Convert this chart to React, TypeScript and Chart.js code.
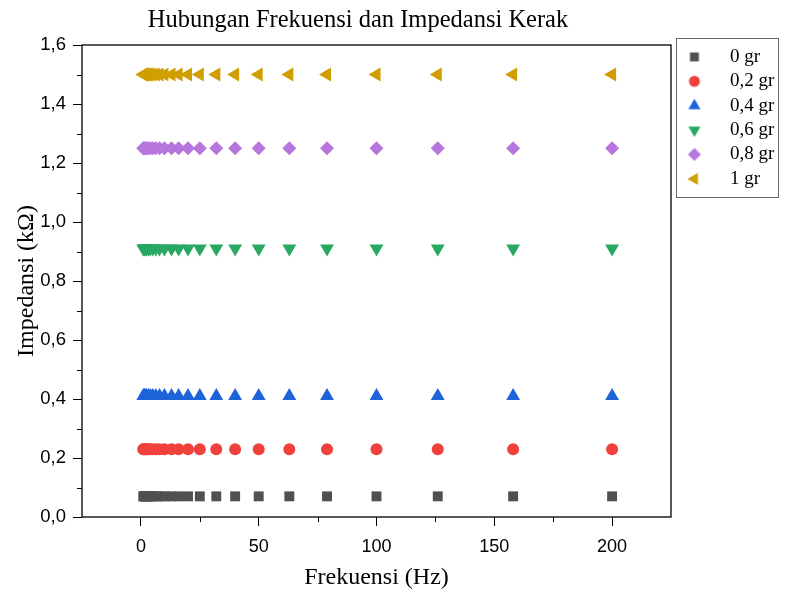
import React, { useEffect, useRef } from 'react';
import { Chart, registerables } from 'chart.js';
import { drawPoint } from 'chart.js/helpers';

Chart.register(...registerables);

const TITLE = 'Hubungan Frekuensi dan Impedansi Kerak';
const X_TITLE = 'Frekuensi (Hz)';
const Y_TITLE = 'Impedansi (kΩ)';

const seriesLabels = ['0 gr', '0,2 gr', '0,4 gr', '0,6 gr', '0,8 gr', '1 gr'];

const frequencies = [1, 1.3, 1.6, 2, 2.5, 3.2, 4, 5, 6.3, 7.9, 10, 13, 16, 20, 25, 32, 40, 50, 63, 79, 100, 126, 158, 200];

const imp0gr = [0.07, 0.07, 0.07, 0.07, 0.07, 0.07, 0.07, 0.07, 0.07, 0.07, 0.07, 0.07, 0.07, 0.07, 0.07, 0.07, 0.07, 0.07, 0.07, 0.07, 0.07, 0.07, 0.07, 0.07];
const imp02gr = [0.23, 0.23, 0.23, 0.23, 0.23, 0.23, 0.23, 0.23, 0.23, 0.23, 0.23, 0.23, 0.23, 0.23, 0.23, 0.23, 0.23, 0.23, 0.23, 0.23, 0.23, 0.23, 0.23, 0.23];
const imp04gr = [0.41, 0.41, 0.41, 0.41, 0.41, 0.41, 0.41, 0.41, 0.41, 0.41, 0.41, 0.41, 0.41, 0.41, 0.41, 0.41, 0.41, 0.41, 0.41, 0.41, 0.41, 0.41, 0.41, 0.41];
const imp06gr = [0.91, 0.91, 0.91, 0.91, 0.91, 0.91, 0.91, 0.91, 0.91, 0.91, 0.91, 0.91, 0.91, 0.91, 0.91, 0.91, 0.91, 0.91, 0.91, 0.91, 0.91, 0.91, 0.91, 0.91];
const imp08gr = [1.25, 1.25, 1.25, 1.25, 1.25, 1.25, 1.25, 1.25, 1.25, 1.25, 1.25, 1.25, 1.25, 1.25, 1.25, 1.25, 1.25, 1.25, 1.25, 1.25, 1.25, 1.25, 1.25, 1.25];
const imp1gr = [1.5, 1.5, 1.5, 1.5, 1.5, 1.5, 1.5, 1.5, 1.5, 1.5, 1.5, 1.5, 1.5, 1.5, 1.5, 1.5, 1.5, 1.5, 1.5, 1.5, 1.5, 1.5, 1.5, 1.5];

const seriesValues = [imp0gr, imp02gr, imp04gr, imp06gr, imp08gr, imp1gr];

const xTicks = [0, 50, 100, 150, 200];
const xMinorTicks = [25, 75, 125, 175];
const yTicks = [0, 0.2, 0.4, 0.6, 0.8, 1.0, 1.2, 1.4, 1.6];
const yMinorTicks = [0.1, 0.3, 0.5, 0.7, 0.9, 1.1, 1.3, 1.5];

const COLORS = ['#505050', '#f0413d', '#1d63d9', '#28a863', '#b676dd', '#d09e00'];
const STYLES = ['rect', 'circle', 'triangle', 'triangle', 'rectRot', 'triangle'];
const ROTATIONS = [0, 0, 0, 180, 0, -90];
const RADII = [7, 6, 8, 8, 7, 8];
const LEGEND_RADII = [6.3, 5.5, 7, 7, 6.5, 7];

const SERIF = '"Liberation Serif", "Times New Roman", serif';
const SANS = '"Liberation Sans", Arial, sans-serif';

function makeLegendIcon(i: number): HTMLCanvasElement {
  const c = document.createElement('canvas');
  c.width = 44;
  c.height = 20;
  const ctx = c.getContext('2d')!;
  ctx.fillStyle = COLORS[i];
  ctx.strokeStyle = COLORS[i];
  drawPoint(ctx, { pointStyle: STYLES[i] as any, rotation: ROTATIONS[i], radius: LEGEND_RADII[i], borderWidth: 0 } as any, 18, 10);
  return c;
}

export default function App() {
  const ref = useRef<HTMLCanvasElement | null>(null);

  useEffect(() => {
    document.body.style.margin = '0';
    const canvas = ref.current;
    if (!canvas) return;
    const icons = seriesLabels.map((_, i) => makeLegendIcon(i));

    const datasets = seriesLabels.map((label, i) => ({
      label,
      data: frequencies.map((f, j) => ({ x: f, y: seriesValues[i][j] })),
      showLine: false,
      pointStyle: STYLES[i],
      pointRotation: ROTATIONS[i],
      pointRadius: RADII[i],
      pointHoverRadius: RADII[i],
      pointBackgroundColor: COLORS[i],
      pointBorderColor: COLORS[i],
      pointBorderWidth: 0,
      backgroundColor: COLORS[i],
      borderColor: COLORS[i],
    }));

    const helperPlugin = {
      id: 'helperPlugin',
      afterInit(chart: any) {
        const lg = chart.legend;
        if (lg && !lg.__wrapped) {
          const orig = lg.fit.bind(lg);
          lg.fit = function () {
            orig();
            this.width = 116;
          };
          lg.__wrapped = true;
        }
      },
      afterLayout(chart: any) {
        if (chart.titleBlock) {
          chart.titleBlock.left = 0;
          chart.titleBlock.right = 716;
        }
        if (chart.legend) {
          chart.legend.top = 42;
        }
      },
      afterDraw(chart: any) {
        const { ctx, chartArea, scales } = chart;
        ctx.save();
        ctx.strokeStyle = '#000';
        ctx.lineWidth = 1.3;
        ctx.strokeRect(chartArea.left, chartArea.top, chartArea.right - chartArea.left, chartArea.bottom - chartArea.top);
        ctx.lineWidth = 1;
        ctx.beginPath();
        xMinorTicks.forEach((v) => {
          const px = Math.round(scales.x.getPixelForValue(v)) + 0.5;
          ctx.moveTo(px, chartArea.bottom);
          ctx.lineTo(px, chartArea.bottom + 5);
        });
        yMinorTicks.forEach((v) => {
          const py = Math.round(scales.y.getPixelForValue(v)) + 0.5;
          ctx.moveTo(chartArea.left, py);
          ctx.lineTo(chartArea.left - 5, py);
        });
        ctx.stroke();
        const lg = chart.legend;
        if (lg) {
          ctx.strokeStyle = '#666';
          ctx.lineWidth = 1;
          const x0 = Math.round(lg.left + 5) + 0.5;
          const x1 = Math.round(lg.right - 9) + 0.5;
          const y0 = Math.round(lg.top - 4) + 0.5;
          const y1 = y0 + 159;
          ctx.strokeRect(x0, y0, x1 - x0, y1 - y0);
        }
        ctx.restore();
      },
    };

    const chart = new Chart(canvas, {
      type: 'scatter',
      data: { datasets: datasets as any },
      plugins: [helperPlugin],
      options: {
        responsive: false,
        animation: false,
        events: [],
        layout: { padding: 0 },
        plugins: {
          title: {
            display: true,
            text: TITLE,
            color: '#000',
            font: { family: SERIF, size: 24.5, weight: 'normal' as any },
            padding: { top: 6, bottom: 9.6 },
          },
          legend: {
            display: true,
            position: 'right',
            align: 'start',
            labels: {
              usePointStyle: true,
              pointStyleWidth: 44,
              boxHeight: 20,
              padding: 5.4,
              color: '#000',
              font: { family: SERIF, size: 19 },
              generateLabels: (ch: any) => {
                const items = (Chart.defaults.plugins.legend.labels as any).generateLabels(ch);
                return items.map((it: any, i: number) => ({ ...it, pointStyle: icons[i], rotation: 0 }));
              },
            },
          },
          tooltip: { enabled: false },
        },
        scales: {
          x: {
            type: 'linear',
            min: -25,
            max: 225,
            afterBuildTicks: (scale: any) => {
              scale.ticks = xTicks.map((v) => ({ value: v }));
            },
            afterFit: (scale: any) => {
              scale.height = 79;
            },
            border: { display: false },
            grid: {
              drawOnChartArea: false,
              drawTicks: true,
              tickLength: 9,
              tickColor: '#000',
              tickWidth: 1,
            },
            ticks: {
              color: '#000',
              font: { family: SANS, size: 18 },
              padding: 10,
              maxRotation: 0,
              callback: (v: any) => String(v),
            },
            title: {
              display: true,
              text: X_TITLE,
              color: '#000',
              font: { family: SERIF, size: 24 },
              padding: { top: 0, bottom: 3.5 },
            },
          },
          y: {
            type: 'linear',
            min: 0,
            max: 1.6,
            afterBuildTicks: (scale: any) => {
              scale.ticks = yTicks.map((v) => ({ value: v }));
            },
            afterFit: (scale: any) => {
              scale.width = 82;
            },
            border: { display: false },
            grid: {
              drawOnChartArea: false,
              drawTicks: true,
              tickLength: 9,
              tickColor: '#000',
              tickWidth: 1,
            },
            ticks: {
              color: '#000',
              font: { family: SANS, size: 18.5 },
              padding: 7,
              callback: (v: any) => Number(v).toFixed(1).replace('.', ','),
            },
            title: {
              display: true,
              text: Y_TITLE,
              color: '#000',
              font: { family: SERIF, size: 24 },
              padding: { top: 12, bottom: 0 },
            },
          },
        },
      } as any,
    });

    return () => chart.destroy();
  }, []);

  return (
    <div style={{ width: 787, height: 596 }}>
      <canvas ref={ref} width={787} height={596} style={{ display: 'block', width: 787, height: 596 }} />
    </div>
  );
}
